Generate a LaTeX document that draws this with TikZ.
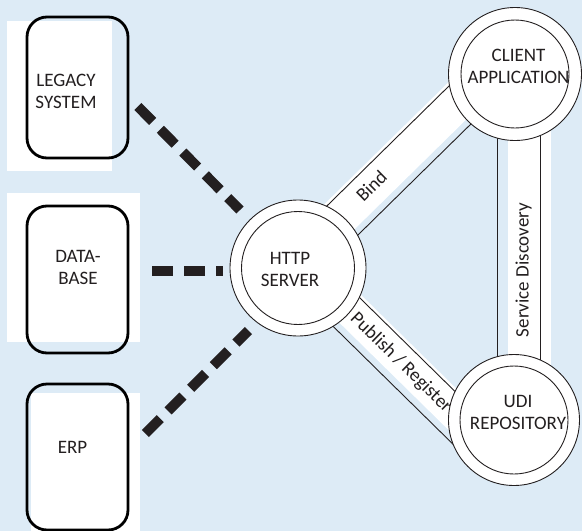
\documentclass[tikz,border=0pt]{standalone}
\usepackage{fontspec}
\setmainfont{Carlito}
\usetikzlibrary{calc}
\definecolor{bg}{RGB}{221,235,246}
\definecolor{ink}{RGB}{35,31,32}
\begin{document}
\begin{tikzpicture}[x=1pt,y=-1pt,
  lbl/.style={font=\fontsize{19}{21.5}\selectfont, text=ink, align=center, inner sep=0pt},
  sysbox/.style={draw=black, line width=2.8pt, rounded corners=20pt, rectangle, minimum width=101pt, inner sep=0pt},
  outerc/.style={circle, draw=ink, line width=0.9pt, fill=white, inner sep=0pt},
  innerc/.style={circle, draw=ink, line width=0.9pt, inner sep=0pt},
  dashline/.style={draw=ink, line width=10pt, dash pattern=on 21pt off 11pt},
  bandline/.style={draw=ink, line width=0.9pt},
  bandfill/.style={fill=white},
]
\useasboundingbox (0,0) rectangle (582,531);
\fill[bg] (0,0) rectangle (582,531);

% white backing panels
\fill[white] (7,21) rectangle (112,171);
\fill[white] (7,193) rectangle (140,342);
\fill[white] (31,393) rectangle (140,531);

% system boxes
\node[sysbox, minimum height=141pt] (legacy) at (77.5,87.5) {};
\node[sysbox, minimum height=147pt] (db) at (77.5,279.5) {};
\node[sysbox, minimum height=146pt] (erp) at (77.5,457) {};
\node[lbl] (legacyT) at (66,91.6) {LEGACY\\SYSTEM};
\node[lbl] (dbT) at (78,267.6) {DATA-\\BASE};
\node[lbl] (erpT) at (72.5,446.9) {ERP};

% centres
\coordinate (hc) at (298,268);
\coordinate (cc) at (515,74);
\coordinate (uc) at (514,420);

% Bind band
\begin{scope}[shift={(hc)}, rotate=44.5]
  \fill[white] (0,-27) rectangle (250,12);
  \coordinate (bA1) at (0,-24); \coordinate (bA2) at (250,-24);
  \coordinate (bB1) at (0,18.5); \coordinate (bB2) at (250,18.5);
  \draw[bandline] (bA1) -- (bA2);
  \draw[bandline] (bB1) -- (bB2);
  \node[lbl, rotate=44.5] (bindT) at (110,-7.3) {Bind};
\end{scope}

% Publish / Register band
\begin{scope}[shift={(hc)}, rotate=-44.5]
  \fill[white] (0,-25) rectangle (250,10);
  \coordinate (pA1) at (0,-22); \coordinate (pA2) at (250,-22);
  \coordinate (pB1) at (0,17); \coordinate (pB2) at (250,17);
  \draw[bandline] (pA1) -- (pA2);
  \draw[bandline] (pB1) -- (pB2);
  \node[lbl, rotate=-44.5] (pubT) at (140,-4.5) {Publish / Register};
\end{scope}

% Service Discovery band
\fill[white] ([xshift=-7pt]cc) rectangle ([xshift=36pt]cc |- uc);
\draw[bandline] ([xshift=-18pt]cc) -- ([xshift=-18pt]cc |- uc);
\draw[bandline] ([xshift=25pt]cc) -- ([xshift=25pt]cc |- uc);
\node[lbl, rotate=90] (sdT) at (523.5,270) {Service Discovery};

% circles
\node[outerc, minimum size=136pt] (http) at (hc) {};
\node[innerc, minimum size=113pt] (httpIn) at (hc) {};
\node[lbl] (httpT) at (290,269.6) {HTTP\\SERVER};

\node[outerc, minimum size=133pt] (client) at (cc) {};
\node[innerc, minimum size=108pt] (clientIn) at (cc) {};
\node[lbl] (clientT) at (518.5,66.6) {CLIENT\\APPLICATION};

\node[outerc, minimum size=131pt] (udi) at (uc) {};
\node[innerc, minimum size=108pt] (udiIn) at (uc) {};
\node[lbl] (udiT) at (518,412.6) {UDI\\REPOSITORY};

% dashed connectors
\draw[dashline] ([shift={(8.5,19)}]legacy.east) -- ([shift={(-58,-58)}]http.center);
\draw[dashline] ([shift={(23,-8.5)}]db.east) -- ([shift={(-75.3,3)}]http.center);
\draw[dashline] ([shift={(16,-23.5)}]erp.east) -- ([shift={(-49.5,62.5)}]http.center);
\end{tikzpicture}
\end{document}
